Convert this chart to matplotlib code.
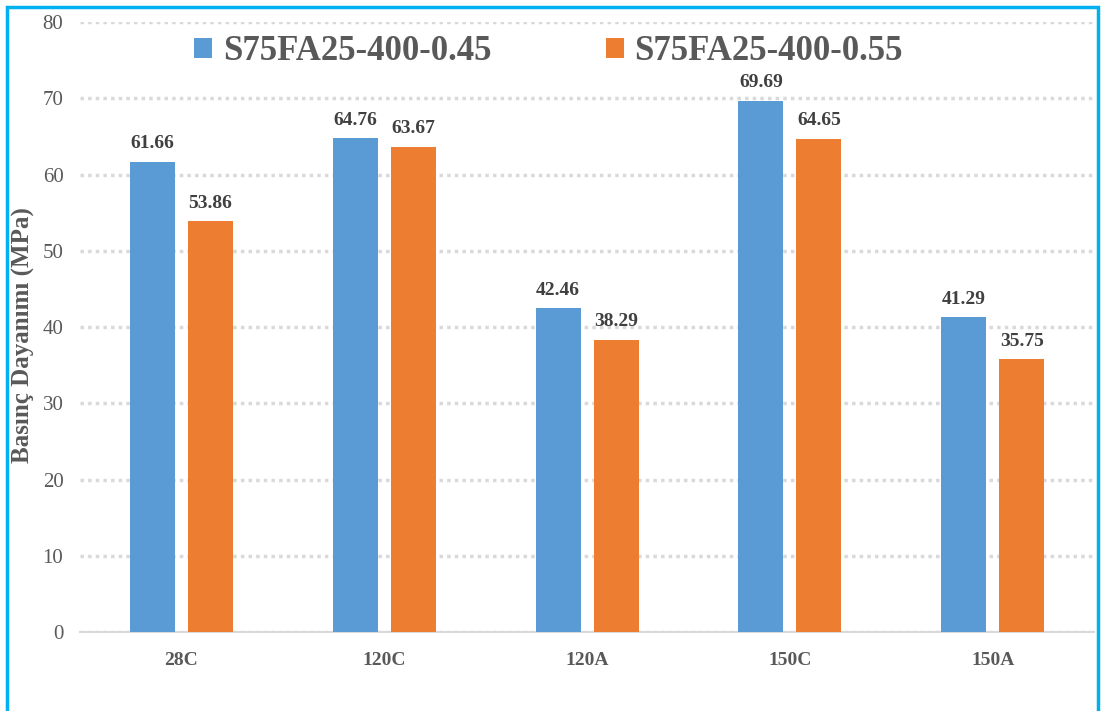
import numpy as np
import matplotlib.pyplot as plt
from matplotlib.patches import Rectangle

# Basınç dayanımı verileri
categories = ['28C', '120C', '120A', '150C', '150A']
series_names = ['S75FA25-400-0.45', 'S75FA25-400-0.55']
values_045 = [61.66, 64.76, 42.46, 69.69, 41.29]
values_055 = [53.86, 63.67, 38.29, 64.65, 35.75]
colors = ['#5B9BD5', '#ED7D31']

plt.rcParams['font.family'] = ['Liberation Serif', 'DejaVu Serif']
text_color = '#595959'

fig = plt.figure(figsize=(11.01, 7.11), dpi=100)
ax = fig.add_axes([0.0727, 0.111, 0.921, 0.858])

x = np.arange(len(categories))
width = 0.222
offset = 0.143

for vals, off, col, name in zip([values_045, values_055], [-offset, offset], colors, series_names):
    bars = ax.bar(x + off, vals, width, color=col, label=name, zorder=3)
    for b, v in zip(bars, vals):
        ax.annotate(f'{v:.2f}', (b.get_x() + b.get_width() / 2, v),
                    xytext=(0, 7), textcoords='offset points',
                    ha='center', va='bottom', fontsize=14, fontweight='bold',
                    color='#404040')

ax.set_xlim(-0.5, len(categories) - 0.5)
ax.set_ylim(0, 80)
ax.set_yticks(np.arange(0, 81, 10))
ax.set_xticks(x)
ax.set_xticklabels(categories, fontweight='bold')

ax.yaxis.grid(True, color='#D9D9D9', linewidth=2.5, linestyle=(0, (1, 1.2)), zorder=0)
ax.set_axisbelow(True)
for s in ['top', 'right', 'left']:
    ax.spines[s].set_visible(False)
ax.spines['bottom'].set_color('#D9D9D9')
ax.spines['bottom'].set_linewidth(1.5)

ax.tick_params(axis='both', length=0, colors=text_color)
ax.tick_params(axis='y', pad=12, labelsize=15)
ax.tick_params(axis='x', pad=14, labelsize=14)

ax.set_ylabel('Basınç Dayanımı (MPa)', fontsize=18, fontweight='bold',
              color=text_color)
ax.yaxis.set_label_coords(-0.044, 0.487)

leg = ax.legend(loc='center', bbox_to_anchor=(0.462, 0.951), ncol=2,
                frameon=False, prop={'size': 25, 'weight': 'bold'},
                handlelength=0.52, handleheight=0.52, handletextpad=0.3,
                columnspacing=3.3, borderaxespad=0)
for t in leg.get_texts():
    t.set_color(text_color)

# Çerçeve
fig.patches.append(Rectangle((0.0065, -0.05), 0.9905, 1.04, transform=fig.transFigure,
                             fill=False, edgecolor='#00B0F0', linewidth=2.5))

fig.savefig('out.png', dpi=100, facecolor='white')
